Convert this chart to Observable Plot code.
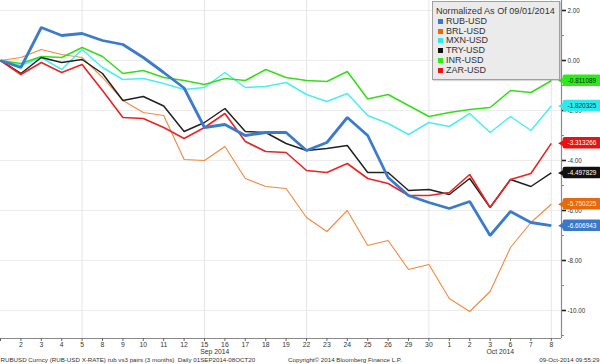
<!DOCTYPE html>
<html>
<head>
<meta charset="utf-8">
<script src="https://cdn.jsdelivr.net/npm/d3@7"></script>
<script src="https://cdn.jsdelivr.net/npm/@observablehq/plot@0.6"></script>
<style>
  html, body { margin: 0; padding: 0; background: #fff; }
  #wrap { position: relative; width: 600px; height: 364px; overflow: hidden; font-family: "Liberation Sans", Arial, sans-serif; }
  #legend { position: absolute; left: 432px; top: 1px; width: 126px; height: 77px; background: #ebebeb; border: 1px solid #a0a0a0; box-shadow: 1px 1px 1px rgba(0,0,0,0.15); color: #333; }
  #legend .title { position: absolute; left: 3px; top: 4px; font-size: 9.1px; white-space: nowrap; }
  #legend .row { position: absolute; left: 5px; font-size: 9px; white-space: nowrap; height: 9px; line-height: 9px; }
  #legend .sw { display: inline-block; width: 5px; height: 5px; margin-right: 3px; vertical-align: 0px; }
</style>
</head>
<body>
<div id="wrap"><div id="chart"></div><div id="legend"></div></div>
<script>
const dayLabels = ["1","2","3","4","5","8","9","10","11","12","15","16","17","18","19","22","23","24","25","26","29","30","1","2","3","6","7","8"];
const monthLabels = ["Sep 2014", "Oct 2014"];
const monthOfDay = [0,0,0,0,0,0,0,0,0,0,0,0,0,0,0,0,0,0,0,0,0,0,1,1,1,1,1,1];

const seriesNames = ["RUB-USD","BRL-USD","MXN-USD","TRY-USD","INR-USD","ZAR-USD"];
const RUB = [0, -0.28, 1.32, 1.0, 1.08, 0.8, 0.64, 0.12, -0.48, -1.1, -2.68, -2.56, -3.0, -2.88, -2.88, -3.6, -3.28, -2.28, -3.0, -4.68, -5.4, -5.68, -5.92, -5.64, -7.0, -6.04, -6.48, -6.606943];
const BRL = [0, 0.12, 0.44, 0.24, 0.12, -0.68, -1.6, -2.08, -2.2, -3.96, -4.0, -3.44, -4.72, -5.04, -5.12, -6.28, -6.84, -6.0, -7.4, -7.2, -8.36, -8.16, -9.52, -10.04, -9.24, -7.48, -6.48, -5.750225];
const MXN = [0, -0.2, 0.12, -0.36, 0.44, -0.28, -0.76, -0.72, -0.92, -1.16, -1.08, -0.48, -1.08, -1.04, -0.88, -1.36, -1.64, -1.32, -2.2, -2.52, -2.96, -2.48, -2.64, -2.12, -2.88, -2.24, -2.8, -1.820325];
const TRY = [0, -0.52, 0.12, -0.08, 0.04, -0.52, -1.6, -1.44, -1.82, -2.84, -2.48, -1.92, -2.84, -2.88, -3.32, -3.6, -3.52, -3.4, -4.48, -4.48, -5.2, -5.16, -5.36, -4.72, -5.88, -4.76, -5.04, -4.497829];
const INR = [0, -0.12, 0.16, 0.12, 0.52, 0.16, -0.52, -0.4, -0.68, -0.8, -0.96, -0.72, -0.8, -0.36, -0.68, -0.8, -0.84, -0.44, -1.54, -1.36, -1.8, -2.24, -2.08, -1.96, -1.88, -1.2, -1.28, -0.811089];
const ZAR = [0, -0.56, -0.08, -0.48, -0.16, -1.2, -2.28, -2.32, -2.68, -3.12, -2.68, -2.12, -3.24, -3.64, -3.68, -4.4, -4.48, -4.12, -4.72, -4.92, -5.4, -5.4, -5.28, -4.56, -5.88, -4.76, -4.52, -3.313266];
const yTicks = [-10, -8, -6, -4, -2, 0, 2];
const yMinorTicks = [-11, -9, -7, -5, -3, -1, 1];
const vGridDays = [4, 10, 15, 21, 27];

const lineColors = {"RUB-USD":"#3b7bcc","BRL-USD":"#f2893e","MXN-USD":"#4aeef2","TRY-USD":"#222222","INR-USD":"#37dd1c","ZAR-USD":"#ea2424"};
const lineWidths = {"RUB-USD":2.8,"BRL-USD":1.1,"MXN-USD":1.5,"TRY-USD":1.5,"INR-USD":1.6,"ZAR-USD":1.6};
const tagColors = {"RUB-USD":"#3a78c8","BRL-USD":"#e8690c","MXN-USD":"#2eeaea","TRY-USD":"#111111","INR-USD":"#2fea1a","ZAR-USD":"#e81212"};
const tagText = {"RUB-USD":"#ffffff","BRL-USD":"#fff4d0","MXN-USD":"#003040","TRY-USD":"#ffffff","INR-USD":"#003000","ZAR-USD":"#ffffff"};

const valuesBy = {"RUB-USD":RUB,"BRL-USD":BRL,"MXN-USD":MXN,"TRY-USD":TRY,"INR-USD":INR,"ZAR-USD":ZAR};
const drawOrder = ["BRL-USD","MXN-USD","INR-USD","TRY-USD","ZAR-USD","RUB-USD"];
const last = seriesNames.map(s => ({s, v: valuesBy[s][valuesBy[s].length - 1]}));
const dayIdx = dayLabels.map((d, i) => i);
const months = monthLabels.map((m, k) => {
  const idx = dayIdx.filter(i => monthOfDay[i] === k);
  return {m, x: (idx[0] + idx[idx.length - 1]) / 2};
});

const n = dayLabels.length;
const yBottom = -11.12;
const chart = Plot.plot({
  width: 600,
  height: 364,
  marginLeft: 0,
  marginRight: 39,
  marginTop: 0,
  marginBottom: 26,
  style: {fontFamily: "Liberation Sans, Arial, sans-serif", background: "#fff", overflow: "visible"},
  x: {type: "linear", domain: [0, n - 0.5], axis: null, label: null},
  y: {type: "linear", domain: [yBottom, 2.4], axis: null, label: null},
  marks: [
    Plot.ruleY(yTicks, {stroke: "#ececec", strokeWidth: 1}),
    Plot.ruleX(vGridDays, {stroke: "#e6e6e6", strokeWidth: 1}),
    ...drawOrder.map(s => Plot.line(valuesBy[s], {x: (d, i) => i, y: d => d, stroke: lineColors[s], strokeWidth: lineWidths[s], strokeLinejoin: "miter", strokeLinecap: "butt"})),
    // frame lines
    Plot.ruleY([yBottom], {stroke: "#8a8a8a", strokeWidth: 1.2}),
    Plot.ruleX([n - 0.5], {stroke: "#8a8a8a", strokeWidth: 1.2}),
    // x axis
    Plot.axisX(dayIdx, {anchor: "bottom", label: null, tickSize: 3, tickPadding: 1, fontSize: 6.8, stroke: "#666", fill: "#333", tickFormat: i => i === 0 ? "" : dayLabels[i]}),
    Plot.text(months, {x: "x", text: "m", frameAnchor: "bottom", dy: 15, fontSize: 6.8, fill: "#333"}),
    // y axis (right)
    Plot.axisY(yTicks, {anchor: "right", label: null, tickSize: 4, tickPadding: 2, fontSize: 6.3, stroke: "#222", strokeWidth: 1.6, fill: "#333", tickFormat: d => d.toFixed(2)}),
    Plot.axisY(yMinorTicks, {anchor: "right", label: null, tickSize: 2, tickFormat: () => "", stroke: "#888"}),
    // value tags
    Plot.rect(last, {x1: n - 0.42, x2: n + 1.45, y1: d => d.v - 0.23, y2: d => d.v + 0.23, fill: d => tagColors[d.s], rx: 2}),
    Plot.dot(last, {x: n - 0.42, y: "v", symbol: "triangle", r: 3.2, rotate: -90, fill: d => tagColors[d.s], stroke: "none"}),
    Plot.text(last, {x: n + 0.5, y: "v", text: d => d.v.toFixed(6), fill: d => tagText[d.s], fontSize: 6.4}),
    // footer
    Plot.text(["RUBUSD Curncy (RUB-USD X-RATE) rub vs3 pairs (3 months)  Daily 01SEP2014-08OCT20"], {frameAnchor: "bottom-left", dy: 23, text: d => d, fontSize: 6.2, fill: "#333", textAnchor: "start"}),
    Plot.text(["Copyright\u00a9 2014 Bloomberg Finance L.P."], {frameAnchor: "bottom", dx: 64, dy: 23, text: d => d, fontSize: 6.2, fill: "#333"}),
    Plot.text(["09-Oct-2014 09:55:29"], {frameAnchor: "bottom-right", dx: 38, dy: 23, text: d => d, fontSize: 6.2, fill: "#333", textAnchor: "end"})
  ]
});
document.getElementById("chart").appendChild(chart);

const legend = document.getElementById("legend");
legend.innerHTML = `<div class="title">Normalized As Of 09/01/2014</div>` +
  seriesNames.map((s, k) => `<div class="row" style="top:${15 + k * 9.7}px"><span class="sw" style="background:${tagColors[s]}"></span>${s}</div>`).join("");
</script>
</body>
</html>
